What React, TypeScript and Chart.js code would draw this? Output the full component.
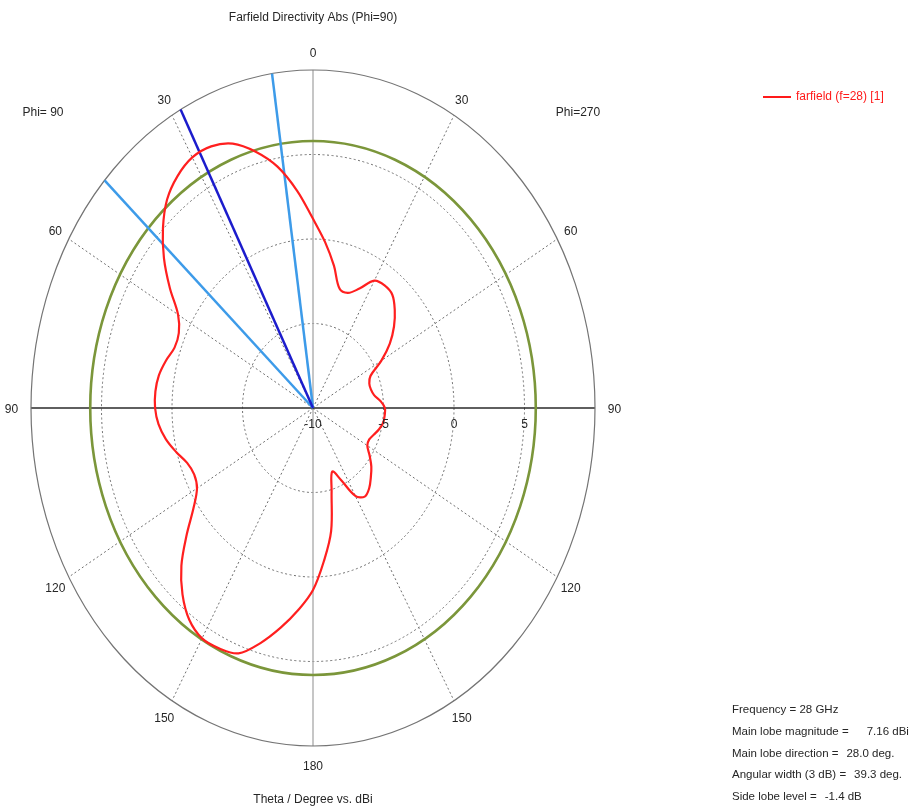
import React, { useEffect, useRef } from "react";
import { Chart, registerables } from "chart.js";

Chart.register(...registerables);

// Farfield directivity cut (Phi=90 on the left half, Phi=270 on the right half),
// theta measured from the top, going round counter-clockwise through 360 deg.
const thetaDeg = [
  0, 5, 10, 15, 20, 25, 30, 35, 40, 45, 50, 55, 60, 65, 70, 75, 80, 85,
  90, 95, 100, 105, 110, 115, 120, 125, 130, 135, 140, 145, 150, 155, 160, 165,
  170, 175, 180, 185, 190, 195, 200, 205, 210, 215, 220, 225, 230, 235, 240, 245,
  250, 255, 260, 265, 270, 275, 280, 285, 290, 295, 300, 305, 310, 315, 320, 325,
  330, 335, 340, 345, 350, 355,
];
const gainDbi = [
  1.2, 2.9, 4.5, 5.7, 6.65, 7.08, 7.12, 6.75, 6.1, 5.05, 3.8, 2.4, 1.05, 0.5, 0.45, 0.8, 1.1, 1.22,
  1.2, 1.0, 0.6, 0.05, -0.5, -0.7, -0.5, 0.35, 1.7, 3.2, 4.4, 5.3, 5.74, 5.7, 5.45, 4.4,
  3.2, 2.0, 0.77, -0.95, -2.6, -4.9, -6.0, -5.3, -4.0, -3.6, -3.8, -4.2, -4.6, -5.1, -5.55, -5.6,
  -5.4, -5.15, -4.95, -4.9, -4.9, -5.2, -5.6, -5.75, -5.75, -5.5, -4.4, -3.35, -2.5, -1.8, -1.25, -1.15,
  -1.3, -2.2, -2.75, -2.7, -1.45, -0.15,
];

// Radial axis (dBi)
const radialMinDb = -10;
const radialMaxDb = 10;
const radialGridDb = [-5, 0, 5];
const radialTickDb = [-10, -5, 0, 5];

// Angular ticks
const angleTickDeg = [0, 30, 60, 90, 120, 150, 180, 210, 240, 270, 300, 330];
const angleTickText = ["0", "30", "60", "90", "120", "150", "180", "150", "120", "90", "60", "30"];

// Main lobe markers
const mainLobeDirDeg = 28.0;
const beamWidth3dBDeg = 39.3;
const refLevelDb = 5.8;

// Annotation text
const titleText = "Farfield Directivity Abs (Phi=90)";
const axisText = "Theta / Degree vs. dBi";
const legendText = "farfield (f=28) [1]";
const infoLabels = ["Frequency = 28 GHz", "Main lobe magnitude =", "Main lobe direction =", "Angular width (3 dB) =", "Side lobe level ="];
const infoValues = ["", "7.16 dBi", "28.0 deg.", "39.3 deg.", "-1.4 dB"];

const FONT = '12px "Liberation Sans", Arial, sans-serif';
const INFO_FONT = '11.5px "Liberation Sans", Arial, sans-serif';

function toXY(deg: number, db: number) {
  const r = db - radialMinDb;
  const a = (deg * Math.PI) / 180;
  return { x: -r * Math.sin(a), y: r * Math.cos(a) };
}

const polarFrame = {
  id: "polarFrame",
  beforeDatasetsDraw(chart: any) {
    const { ctx } = chart;
    const xs = chart.scales.x;
    const ys = chart.scales.y;
    const cx = xs.getPixelForValue(0);
    const cy = ys.getPixelForValue(0);
    const rx = (db: number) => xs.getPixelForValue(db - radialMinDb) - cx;
    const ry = (db: number) => cy - ys.getPixelForValue(db - radialMinDb);
    ctx.save();

    // dotted rings
    ctx.strokeStyle = "#6e6e6e";
    ctx.lineWidth = 1;
    ctx.setLineDash([2, 2.5]);
    for (const db of radialGridDb) {
      ctx.beginPath();
      ctx.ellipse(cx, cy, rx(db), ry(db), 0, 0, Math.PI * 2);
      ctx.stroke();
    }
    // dotted spokes
    for (const deg of angleTickDeg) {
      if (deg % 90 === 0) continue;
      const p = toXY(deg, radialMaxDb);
      ctx.beginPath();
      ctx.moveTo(cx, cy);
      ctx.lineTo(xs.getPixelForValue(p.x), ys.getPixelForValue(p.y));
      ctx.stroke();
    }
    ctx.setLineDash([]);

    // vertical axis
    ctx.strokeStyle = "#a8a8a8";
    ctx.lineWidth = 1.3;
    ctx.beginPath();
    ctx.moveTo(cx, cy - ry(radialMaxDb));
    ctx.lineTo(cx, cy + ry(radialMaxDb));
    ctx.stroke();

    // horizontal axis
    ctx.strokeStyle = "#2a2a2a";
    ctx.lineWidth = 1.3;
    ctx.beginPath();
    ctx.moveTo(cx - rx(radialMaxDb), cy);
    ctx.lineTo(cx + rx(radialMaxDb), cy);
    ctx.stroke();

    // outer ring
    ctx.strokeStyle = "#747474";
    ctx.lineWidth = 1.2;
    ctx.beginPath();
    ctx.ellipse(cx, cy, rx(radialMaxDb), ry(radialMaxDb), 0, 0, Math.PI * 2);
    ctx.stroke();

    // reference level ring
    ctx.strokeStyle = "#7b963a";
    ctx.lineWidth = 2.6;
    ctx.beginPath();
    ctx.ellipse(cx, cy, rx(refLevelDb), ry(refLevelDb), 0, 0, Math.PI * 2);
    ctx.stroke();
    ctx.restore();
  },
  afterDraw(chart: any) {
    const { ctx, chartArea } = chart;
    const xs = chart.scales.x;
    const ys = chart.scales.y;
    const cx = xs.getPixelForValue(0);
    const cy = ys.getPixelForValue(0);
    ctx.save();
    ctx.font = FONT;
    ctx.fillStyle = "#262626";
    ctx.textAlign = "center";
    ctx.textBaseline = "middle";

    ctx.fillText(titleText, cx, 18);
    ctx.fillText(axisText, cx, 800);

    // angle ticks
    angleTickDeg.forEach((deg, i) => {
      const p = toXY(deg, radialMaxDb + 1.1);
      let px = xs.getPixelForValue(p.x);
      if (deg === 90) px -= 4;
      if (deg === 270) px += 4;
      ctx.fillText(angleTickText[i], px, ys.getPixelForValue(p.y) + 2);
    });

    // radial ticks below the horizontal axis
    radialTickDb.forEach((db) => {
      ctx.fillText(String(db), xs.getPixelForValue(db - radialMinDb), cy + 17);
    });

    // cut labels
    ctx.fillText("Phi= 90", chartArea.left + 12, 113);
    ctx.fillText("Phi=270", chartArea.right - 17, 113);

    // legend
    ctx.strokeStyle = "#ff1a1a";
    ctx.lineWidth = 2;
    ctx.beginPath();
    ctx.moveTo(763, 97);
    ctx.lineTo(791, 97);
    ctx.stroke();
    ctx.fillStyle = "#ff1a1a";
    ctx.textAlign = "left";
    ctx.fillText(legendText, 796, 97);

    // summary block
    ctx.font = INFO_FONT;
    ctx.fillStyle = "#262626";
    const gaps = [0, 18, 8, 8, 8];
    infoLabels.forEach((t, i) => {
      const y = 710 + i * 21.7;
      ctx.fillText(t, 732, y);
      if (infoValues[i]) {
        const w = ctx.measureText(t).width;
        ctx.fillText(infoValues[i], 732 + w + gaps[i], y);
      }
    });
    ctx.restore();
  },
};

export default function App() {
  const ref = useRef<HTMLCanvasElement | null>(null);

  useEffect(() => {
    if (!ref.current) return;
    const curve = thetaDeg.map((d, i) => toXY(d, gainDbi[i]));
    curve.push(curve[0]);
    const origin = { x: 0, y: 0 };
    const ray = (deg: number) => [origin, toXY(deg, radialMaxDb)];

    const chart = new Chart(ref.current, {
      type: "scatter",
      data: {
        datasets: [
          {
            label: legendText,
            data: curve,
            showLine: true,
            borderColor: "#ff1f1f",
            borderWidth: 2.2,
            pointRadius: 0,
            tension: 0.35,
            clip: false,
            order: 0,
          },
          {
            label: "main lobe",
            data: ray(mainLobeDirDeg),
            showLine: true,
            borderColor: "#1c1ccc",
            borderWidth: 2.5,
            pointRadius: 0,
            clip: false,
            order: 1,
          },
          {
            label: "3 dB lower",
            data: ray(mainLobeDirDeg - beamWidth3dBDeg / 2),
            showLine: true,
            borderColor: "#3d9be9",
            borderWidth: 2.5,
            pointRadius: 0,
            clip: false,
            order: 1,
          },
          {
            label: "3 dB upper",
            data: ray(mainLobeDirDeg + beamWidth3dBDeg / 2),
            showLine: true,
            borderColor: "#3d9be9",
            borderWidth: 2.5,
            pointRadius: 0,
            clip: false,
            order: 1,
          },
        ],
      },
      options: {
        responsive: false,
        animation: false,
        devicePixelRatio: 1,
        layout: { padding: { left: 31, right: 326, top: 70, bottom: 61 } },
        scales: {
          x: { type: "linear", min: -20, max: 20, display: false },
          y: { type: "linear", min: -20, max: 20, display: false },
        },
        plugins: {
          legend: { display: false },
          tooltip: { enabled: false },
        },
      },
      plugins: [polarFrame],
    });
    return () => chart.destroy();
  }, []);

  return (
    <div style={{ position: "fixed", left: 0, top: 0, width: 921, height: 807, background: "#fff" }}>
      <canvas ref={ref} width={921} height={807} style={{ display: "block" }} />
    </div>
  );
}
